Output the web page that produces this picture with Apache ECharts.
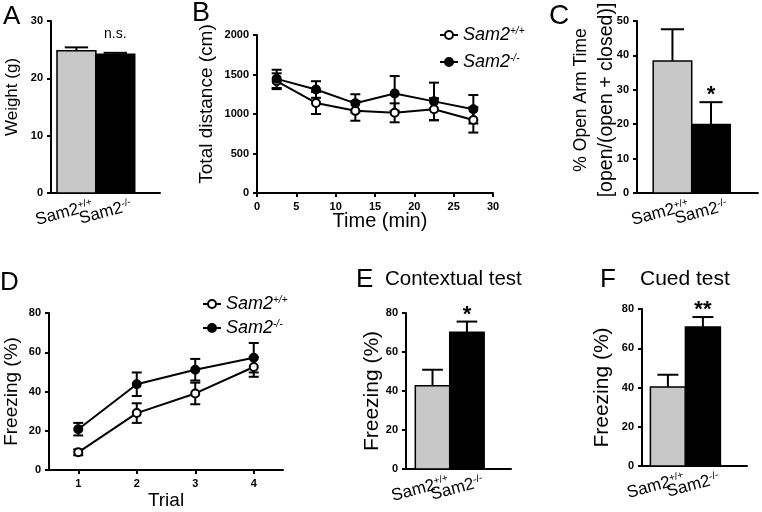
<!DOCTYPE html>
<html><head><meta charset="utf-8">
<script src="https://cdn.jsdelivr.net/npm/echarts@6/dist/echarts.min.js"></script>
<style>html,body{margin:0;padding:0;background:#fff}#c{width:762px;height:512px}</style>
</head><body><div id="c"></div>
<script>
// ---- data ----
const gene = 'Sam2';
const genotypes = ['+/+', '-/-'];
// A: body weight (g)
const weightMean = [24.8, 24.2];
const weightSem = [0.6, 0.25];
const weightSig = ['', 'n.s.'];
// B: total distance (cm) over time (min)
const timeMin = [2.5, 7.5, 12.5, 17.5, 22.5, 27.5];
const distWT = [1415, 1140, 1040, 1015, 1060, 925];
const distWTSem = [100, 140, 125, 120, 140, 160];
const distKO = [1445, 1310, 1135, 1260, 1160, 1060];
const distKOSem = [115, 105, 115, 220, 237, 180];
// C: % open arm time
const openArmMean = [38.4, 19.9];
const openArmSem = [9.2, 6.5];
const openArmSig = ['', '*'];
// D: freezing (%) per trial
const trials = ['1', '2', '3', '4'];
const frzWT = [9.0, 29.0, 39.0, 52.5];
const frzWTSem = [1.5, 5.0, 5.5, 5.0];
const frzKO = [20.8, 43.7, 51.1, 57.2];
const frzKOSem = [3.2, 6.0, 5.5, 7.5];
// E: contextual test freezing (%)
const contextMean = [42.7, 70.1];
const contextSem = [8.2, 5.5];
const contextSig = ['', '*'];
// F: cued test freezing (%)
const cuedMean = [40.2, 70.8];
const cuedSem = [6.3, 5.1];
const cuedSig = ['', '**'];

// ---- styling ----
const FF = 'Liberation Sans, Arial, sans-serif';
const GRAY = '#c8c8c8';
const seriesNames = genotypes.map(g => gene + g);

const chart = echarts.init(document.getElementById('c'), null, {renderer: 'canvas'});

const axisLineStyle = {lineStyle: {color: '#000', width: 2}};
const tickStyle = {show: true, length: 4, lineStyle: {color: '#000', width: 2}};
const tickLabel = {color: '#000', fontWeight: 'bold', fontSize: 11, fontFamily: FF, margin: 8,
  formatter: v => String(v)};
function nameStyle(size, extra) {
  return Object.assign({color: '#000', fontSize: size, fontFamily: FF}, extra || {});
}

function yAx(grid, max, interval, name, gap, size, extra) {
  return {
    type: 'value', gridIndex: grid, min: 0, max: max, interval: interval,
    axisLine: Object.assign({show: true, onZero: false}, axisLineStyle), axisTick: tickStyle,
    axisLabel: tickLabel, splitLine: {show: false},
    name: name, nameLocation: 'middle', nameGap: gap, nameMoveOverlap: false,
    nameTextStyle: nameStyle(size, extra)
  };
}
function barXAx(grid, min, max) {
  return {type: 'value', gridIndex: grid, min: min, max: max,
    axisLine: Object.assign({show: true, onZero: false}, axisLineStyle),
    axisTick: {show: false}, axisLabel: {show: false}, splitLine: {show: false}};
}

function barSeries(idx, means, sems, sigs, sigSize) {
  return {
    type: 'custom', xAxisIndex: idx, yAxisIndex: idx, silent: true,
    data: means.map((m, i) => [i, m, sems[i]]),
    renderItem: function (params, api) {
      const i = api.value(0), m = api.value(1), e = api.value(2);
      const p0 = api.coord([i - 0.5, 0]);
      const p1 = api.coord([i + 0.5, m]);
      const c = api.coord([i, m]);
      const t = api.coord([i, m + e]);
      const cap = api.size([0.3, 0])[0];
      const children = [
        {type: 'rect', shape: {x: c[0] - 1, y: t[1], width: 2, height: c[1] - t[1]}, style: {fill: '#000'}},
        {type: 'rect', shape: {x: t[0] - cap, y: t[1] - 1, width: 2 * cap, height: 2}, style: {fill: '#000'}},
        {type: 'rect', shape: {x: p0[0], y: p1[1], width: p1[0] - p0[0], height: p0[1] - p1[1]},
          style: {fill: i === 0 ? GRAY : '#000', stroke: '#000', lineWidth: 1.5}},
        {type: 'text', x: c[0] + 14, y: p0[1] + 4, rotation: 15 * Math.PI / 180,
          style: {text: gene + '{s|' + genotypes[i] + '}', font: '17px ' + FF, fill: '#000',
            align: 'right', verticalAlign: 'top',
            rich: {s: {fontSize: 10, fontFamily: FF, verticalAlign: 'top', padding: [0, 0, 6, 0]}}}}
      ];
      const sig = sigs[i];
      if (sig) {
        const isNs = sig === 'n.s.';
        children.push({type: 'text', x: t[0], y: t[1] + (isNs ? -12 : 4),
          style: {text: sig, font: (isNs ? '14px ' : 'bold ' + sigSize + 'px ') + FF, fill: '#000',
            align: 'center', verticalAlign: 'bottom'}});
      }
      return {type: 'group', children: children};
    }
  };
}

function errSeries(idx, xs, ys, es, cat) {
  return {
    type: 'custom', xAxisIndex: idx, yAxisIndex: idx, silent: true, z: 1,
    data: ys.map((y, i) => [cat ? i : xs[i], y, es[i]]),
    renderItem: function (params, api) {
      const x = api.value(0), y = api.value(1), e = api.value(2);
      const lo = api.coord([x, y - e]), hi = api.coord([x, y + e]);
      const w = 5;
      return {type: 'group', children: [
        {type: 'rect', shape: {x: lo[0] - 1, y: hi[1], width: 2, height: lo[1] - hi[1]}, style: {fill: '#000'}},
        {type: 'rect', shape: {x: lo[0] - w, y: lo[1] - 1, width: 2 * w, height: 2}, style: {fill: '#000'}},
        {type: 'rect', shape: {x: hi[0] - w, y: hi[1] - 1, width: 2 * w, height: 2}, style: {fill: '#000'}}
      ]};
    }
  };
}

function lineSeries(idx, name, data, open) {
  return {
    type: 'line', name: name, xAxisIndex: idx, yAxisIndex: idx, z: 3,
    data: data, symbol: 'circle', symbolSize: 8, showSymbol: true,
    itemStyle: {color: open ? '#fff' : '#000', borderColor: '#000', borderWidth: 2},
    lineStyle: {color: '#000', width: 2}, animation: false
  };
}

function legendAt(left, top, gap) {
  return {
    data: seriesNames, orient: 'vertical', left: left, top: top,
    itemWidth: 18, itemHeight: 10, itemGap: gap, selectedMode: false,
    formatter: n => gene + '{s|' + n.slice(gene.length) + '}',
    textStyle: {color: '#000', fontSize: 18, fontStyle: 'italic', fontFamily: FF,
      rich: {s: {fontSize: 10, fontStyle: 'italic', fontFamily: FF, verticalAlign: 'top', padding: [0, 0, 7, 0]}}}
  };
}

const option = {
  animation: false,
  grid: [
    {left: 51, top: 21, width: 109, height: 172},   // A
    {left: 257, top: 35, width: 236, height: 158},  // B
    {left: 637, top: 21, width: 121, height: 172},  // C
    {left: 49, top: 313, width: 234, height: 157},  // D
    {left: 406, top: 313, width: 105, height: 156}, // E
    {left: 642, top: 309, width: 105, height: 157}  // F
  ],
  xAxis: [
    barXAx(0, -0.654, 2.15),
    {type: 'value', gridIndex: 1, min: 0, max: 30, interval: 5,
      axisLine: Object.assign({show: true, onZero: false}, axisLineStyle), axisTick: tickStyle,
      axisLabel: tickLabel, splitLine: {show: false},
      name: 'Time (min)', nameLocation: 'middle', nameGap: 18, nameMoveOverlap: false,
      nameTextStyle: nameStyle(20, {padding: [0, 0, 0, 10]})},
    barXAx(2, -0.92, 2.22),
    {type: 'category', gridIndex: 3, data: trials, boundaryGap: true,
      axisLine: Object.assign({show: true, onZero: false}, axisLineStyle),
      axisTick: Object.assign({alignWithLabel: true}, tickStyle),
      axisLabel: tickLabel, splitLine: {show: false},
      name: 'Trial', nameLocation: 'middle', nameGap: 21, nameMoveOverlap: false,
      nameTextStyle: nameStyle(19)},
    barXAx(4, -0.77, 2.28),
    barXAx(5, -0.74, 2.26)
  ],
  yAxis: [
    yAx(0, 30, 10, 'Weight (g)', 30, 17, {padding: [0, 0, 0, 20]}),
    yAx(1, 2000, 500, 'Total distance (cm)', 41, 19, {padding: [0, 0, 0, 20]}),
    yAx(2, 50, 10, '{a|% Open Arm Time}\n{b|[open/(open + closed)]}', 17, 18,
      {lineHeight: 26, padding: [0, 0, 0, 14],
       rich: {a: {fontSize: 17.5, fontFamily: FF, lineHeight: 26}, b: {fontSize: 19.5, fontFamily: FF, lineHeight: 26}}}),
    yAx(3, 80, 20, 'Freezing (%)', 28, 19),
    yAx(4, 80, 20, 'Freezing (%)', 23, 21),
    yAx(5, 80, 20, 'Freezing (%)', 29, 21)
  ],
  legend: [legendAt(434, 21, 9), legendAt(197, 290, 6)],
  series: [
    barSeries(0, weightMean, weightSem, weightSig, 20),
    errSeries(1, timeMin, distWT, distWTSem, false),
    errSeries(1, timeMin, distKO, distKOSem, false),
    lineSeries(1, seriesNames[0], timeMin.map((t, i) => [t, distWT[i]]), true),
    lineSeries(1, seriesNames[1], timeMin.map((t, i) => [t, distKO[i]]), false),
    barSeries(2, openArmMean, openArmSem, openArmSig, 22),
    errSeries(3, trials, frzWT, frzWTSem, true),
    errSeries(3, trials, frzKO, frzKOSem, true),
    lineSeries(3, seriesNames[0], frzWT, true),
    lineSeries(3, seriesNames[1], frzKO, false),
    barSeries(4, contextMean, contextSem, contextSig, 22),
    barSeries(5, cuedMean, cuedSem, cuedSig, 22)
  ],
  graphic: [
    {type: 'text', left: 3, top: 4, style: {text: 'A', font: '26px ' + FF, fill: '#000'}},
    {type: 'text', left: 192, top: 0, style: {text: 'B', font: '27px ' + FF, fill: '#000'}},
    {type: 'text', left: 549, top: 2, style: {text: 'C', font: '28px ' + FF, fill: '#000'}},
    {type: 'text', left: 0, top: 270, style: {text: 'D', font: '26px ' + FF, fill: '#000'}},
    {type: 'text', left: 356, top: 267, style: {text: 'E', font: '26px ' + FF, fill: '#000'}},
    {type: 'text', left: 600, top: 267, style: {text: 'F', font: '26px ' + FF, fill: '#000'}},
    {type: 'text', left: 385, top: 269, style: {text: 'Contextual test', font: '20.5px ' + FF, fill: '#000'}},
    {type: 'text', left: 640, top: 269, style: {text: 'Cued test', font: '21px ' + FF, fill: '#000'}}
  ]
};
chart.setOption(option);
</script>
</body></html>
